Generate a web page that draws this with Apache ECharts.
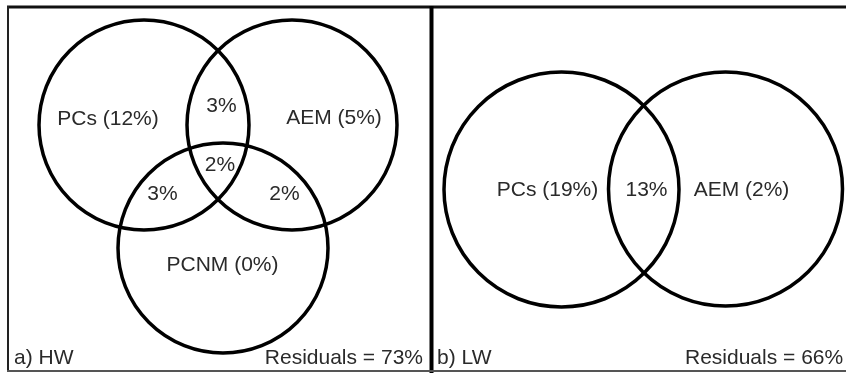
<!DOCTYPE html>
<html>
<head>
<meta charset="utf-8">
<script src="https://cdn.jsdelivr.net/npm/echarts@6/dist/echarts.min.js"></script>
<style>
  html, body { margin: 0; padding: 0; background: #fff; }
  #chart { width: 846px; height: 373px; }
</style>
</head>
<body>
<div id="chart"></div>
<script>
// ---- Panel a) HW: three-set variance partitioning ----
const hwTitle = 'a) HW';
const hwSets = ['PCs', 'AEM', 'PCNM'];
const hwUnique = [12, 5, 0];            // % explained by each set alone
const hwPairs = ['PCs∩AEM', 'PCs∩PCNM', 'AEM∩PCNM'];
const hwPairValues = [3, 3, 2];         // % shared by each pair only
const hwAllShared = 2;                  // % shared by all three sets
const hwResiduals = 73;

// ---- Panel b) LW: two-set variance partitioning ----
const lwTitle = 'b) LW';
const lwSets = ['PCs', 'AEM'];
const lwUnique = [19, 2];
const lwShared = 13;
const lwResiduals = 66;

// Circle layout in panel units: [cx, cy, r]
const hwCircleLayout = [[136, 118, 105], [284, 118, 105], [215, 241, 105]];
const lwCircleLayout = [[130.5, 182.5, 117.5], [294.5, 182, 117]];

// Label anchor points in panel units
const hwUniqueAnchors = [[100, 112], [326, 111], [214.5, 258]];
const hwPairAnchors = [[213.5, 99], [154.5, 187], [276.5, 187]];
const hwAllAnchor = [212, 158];
const lwUniqueAnchors = [[116.5, 183], [310.5, 183]];
const lwSharedAnchor = [215.5, 183];
const footerY = 351;

const TEXT_COLOR = '#2a2a2a';
const FONT = '"Liberation Sans", Arial, sans-serif';
const FONT_SIZE = 21;

const pct = v => v + '%';

// Labels for each panel: [x, y, text, align]
const hwLabels = [
  ...hwSets.map((s, i) => [hwUniqueAnchors[i][0], hwUniqueAnchors[i][1], s + ' (' + pct(hwUnique[i]) + ')', 'center']),
  ...hwPairValues.map((v, i) => [hwPairAnchors[i][0], hwPairAnchors[i][1], pct(v), 'center']),
  [hwAllAnchor[0], hwAllAnchor[1], pct(hwAllShared), 'center'],
  [6, footerY, hwTitle, 'left'],
  [415, footerY, 'Residuals = ' + pct(hwResiduals), 'right']
];
const lwLabels = [
  ...lwSets.map((s, i) => [lwUniqueAnchors[i][0], lwUniqueAnchors[i][1], s + ' (' + pct(lwUnique[i]) + ')', 'center']),
  [lwSharedAnchor[0], lwSharedAnchor[1], pct(lwShared), 'center'],
  [6, footerY, lwTitle, 'left'],
  [254, footerY, 'Residuals = ' + pct(lwResiduals), 'left']
];

function circleItem(params, api) {
  const c = api.coord([api.value(0), api.value(1)]);
  const e = api.coord([api.value(0) + api.value(2), api.value(1)]);
  return {
    type: 'circle',
    shape: { cx: c[0], cy: c[1], r: Math.abs(e[0] - c[0]) },
    style: { fill: 'none', stroke: '#000', lineWidth: 3.5 }
  };
}

function labelItem(params, api) {
  const p = api.coord([api.value(0), api.value(1)]);
  const d = params.context.rows[params.dataIndex];
  return {
    type: 'text',
    x: p[0], y: p[1],
    style: {
      text: d[2],
      fill: TEXT_COLOR,
      font: FONT_SIZE + 'px ' + FONT,
      align: d[3],
      verticalAlign: 'middle'
    }
  };
}

function labelSeries(rows, idx) {
  return {
    type: 'custom', xAxisIndex: idx, yAxisIndex: idx,
    data: rows.map(r => [r[0], r[1]]),
    renderItem: (params, api) => {
      params.context.rows = rows;
      return labelItem(params, api);
    },
    silent: true, z: 3
  };
}

const chart = echarts.init(document.getElementById('chart'), null, { renderer: 'canvas' });

const axisBase = { type: 'value', show: false, splitLine: { show: false } };

chart.setOption({
  backgroundColor: '#fff',
  animation: false,
  grid: [
    { left: 8, top: 7, width: 423, height: 364 },
    { left: 431, top: 7, width: 415, height: 364 }
  ],
  xAxis: [
    Object.assign({}, axisBase, { gridIndex: 0, min: 0, max: 423 }),
    Object.assign({}, axisBase, { gridIndex: 1, min: 0, max: 415 })
  ],
  yAxis: [
    Object.assign({}, axisBase, { gridIndex: 0, min: 0, max: 364, inverse: true }),
    Object.assign({}, axisBase, { gridIndex: 1, min: 0, max: 364, inverse: true })
  ],
  graphic: [
    // frame around both panels
    { type: 'line', shape: { x1: 7, y1: 7, x2: 846, y2: 7 }, style: { stroke: '#111', lineWidth: 3 }, z: 10 },
    { type: 'line', shape: { x1: 8, y1: 6, x2: 8, y2: 372 }, style: { stroke: '#222', lineWidth: 2 }, z: 10 },
    { type: 'line', shape: { x1: 431.5, y1: 6, x2: 431.5, y2: 373 }, style: { stroke: '#000', lineWidth: 4 }, z: 10 },
    { type: 'line', shape: { x1: 7, y1: 371, x2: 846, y2: 371 }, style: { stroke: '#555', lineWidth: 2 }, z: 10 }
  ],
  series: [
    {
      type: 'custom', xAxisIndex: 0, yAxisIndex: 0,
      data: hwCircleLayout, renderItem: circleItem, silent: true, z: 2
    },
    {
      type: 'custom', xAxisIndex: 1, yAxisIndex: 1,
      data: lwCircleLayout, renderItem: circleItem, silent: true, z: 2
    },
    labelSeries(hwLabels, 0),
    labelSeries(lwLabels, 1)
  ]
});
</script>
</body>
</html>
